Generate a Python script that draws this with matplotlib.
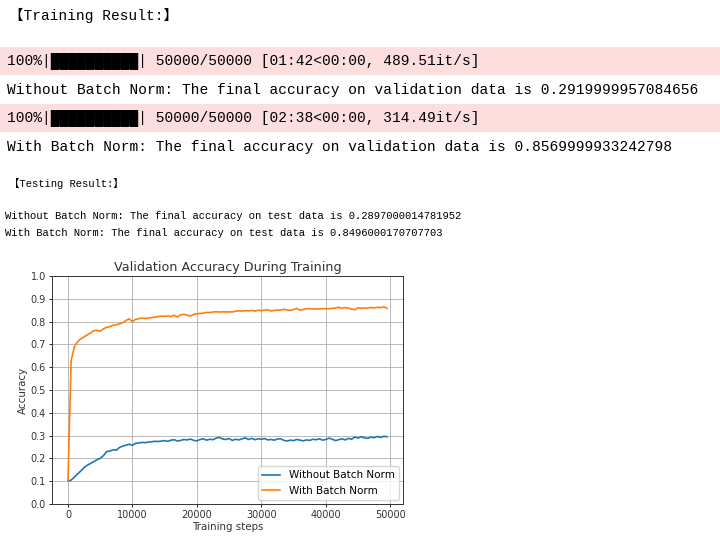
import numpy as np
import matplotlib
matplotlib.use('Agg')
import matplotlib.pyplot as plt
from matplotlib.patches import Rectangle
from matplotlib.ticker import MultipleLocator

# validation accuracy, recorded every 500 training steps
steps = np.arange(0, 50000, 500)

acc_without_bn = [
    0.100, 0.105, 0.118, 0.132, 0.145, 0.160, 0.170, 0.178, 0.186, 0.194,
    0.200, 0.212, 0.230, 0.232, 0.238, 0.236, 0.248, 0.254, 0.258, 0.262,
    0.258, 0.266, 0.268, 0.270, 0.269, 0.272, 0.273, 0.275, 0.274, 0.276,
    0.278, 0.275, 0.280, 0.282, 0.276, 0.279, 0.283, 0.281, 0.285, 0.279,
    0.277, 0.283, 0.286, 0.280, 0.284, 0.282, 0.289, 0.292, 0.285, 0.283,
    0.287, 0.279, 0.284, 0.281, 0.286, 0.290, 0.283, 0.288, 0.282, 0.286,
    0.284, 0.287, 0.281, 0.283, 0.280, 0.285, 0.286, 0.279, 0.276, 0.280,
    0.278, 0.283, 0.280, 0.277, 0.281, 0.279, 0.284, 0.282, 0.286, 0.280,
    0.283, 0.289, 0.284, 0.278, 0.282, 0.286, 0.281, 0.288, 0.284, 0.294,
    0.289, 0.295, 0.290, 0.288, 0.293, 0.291, 0.296, 0.292, 0.297, 0.295,
]

acc_with_bn = [
    0.100, 0.630, 0.690, 0.712, 0.725, 0.733, 0.742, 0.750, 0.760, 0.762,
    0.758, 0.768, 0.775, 0.778, 0.784, 0.786, 0.790, 0.795, 0.805, 0.812,
    0.800, 0.810, 0.813, 0.815, 0.814, 0.815, 0.818, 0.820, 0.822, 0.824,
    0.823, 0.825, 0.822, 0.828, 0.820, 0.830, 0.832, 0.828, 0.825, 0.832,
    0.834, 0.836, 0.837, 0.840, 0.840, 0.842, 0.843, 0.842, 0.843, 0.842,
    0.843, 0.842, 0.846, 0.847, 0.846, 0.848, 0.847, 0.849, 0.846, 0.850,
    0.848, 0.850, 0.852, 0.847, 0.849, 0.851, 0.850, 0.854, 0.851, 0.849,
    0.853, 0.858, 0.850, 0.853, 0.856, 0.857, 0.855, 0.856, 0.855, 0.857,
    0.856, 0.857, 0.858, 0.860, 0.863, 0.858, 0.862, 0.859, 0.855, 0.852,
    0.861, 0.858, 0.860, 0.859, 0.862, 0.860, 0.863, 0.861, 0.865, 0.858,
]

series_labels = ["Without Batch Norm", "With Batch Norm"]

# notebook output text
training_header = "【Training Result:】"
testing_header = "【Testing Result:】"
progress_lines = [
    "100%|██████████| 50000/50000 [01:42<00:00, 489.51it/s]",
    "100%|██████████| 50000/50000 [02:38<00:00, 314.49it/s]",
]
val_lines = [
    "Without Batch Norm: The final accuracy on validation data is 0.2919999957084656",
    "With Batch Norm: The final accuracy on validation data is 0.8569999933242798",
]
test_lines = [
    "Without Batch Norm: The final accuracy on test data is 0.2897000014781952",
    "With Batch Norm: The final accuracy on test data is 0.8496000170707703",
]

W, H = 720, 543
fig = plt.figure(figsize=(W / 100, H / 100), dpi=100)


def fx(px):
    return px / W


def fy(py):
    return 1 - py / H


mono = ['Liberation Mono', 'DejaVu Sans Mono', 'Noto Sans CJK SC']
big = 10.45
small = 7.6

# stderr-style pink bands behind the progress bars
for top, bottom in [(47, 75), (104, 132)]:
    fig.patches.append(Rectangle((0, fy(bottom)), 1, (bottom - top) / H,
                                 transform=fig.transFigure, facecolor="#fcdede",
                                 edgecolor="none", zorder=0))

fig.text(fx(9), fy(15), training_header, family=mono, fontsize=big, va='center')
fig.text(fx(7), fy(61), progress_lines[0], family=mono, fontsize=big, va='center')
fig.text(fx(7), fy(90), val_lines[0], family=mono, fontsize=big, va='center')
fig.text(fx(7), fy(118), progress_lines[1], family=mono, fontsize=big, va='center')
fig.text(fx(7), fy(147), val_lines[1], family=mono, fontsize=big, va='center')
fig.text(fx(9), fy(183), testing_header, family=mono, fontsize=small, va='center')
fig.text(fx(5), fy(216), test_lines[0], family=mono, fontsize=small, va='center')
fig.text(fx(5), fy(233), test_lines[1], family=mono, fontsize=small, va='center')

# chart
ax = fig.add_axes([fx(52), fy(504), (403 - 52) / W, (504 - 276) / H])
ax.plot(steps, acc_without_bn, color="#1f77b4", lw=1.2, label=series_labels[0])
ax.plot(steps, acc_with_bn, color="#ff7f0e", lw=1.2, label=series_labels[1])
ax.set_ylim(0, 1.0)
ax.yaxis.set_major_locator(MultipleLocator(0.1))
ax.xaxis.set_major_locator(MultipleLocator(10000))
ax.grid(True, color="#b0b0b0", lw=0.6)
ax.set_title("Validation Accuracy During Training", fontsize=9.2, pad=3.5, color="#333333")
ax.set_xlabel("Training steps", fontsize=7.4, labelpad=1, color="#333333")
ax.set_ylabel("Accuracy", fontsize=7.4, labelpad=2, color="#333333")
ax.tick_params(labelsize=7.0, length=2.5, width=0.6, pad=2, labelcolor="#333333")
for s in ax.spines.values():
    s.set_linewidth(0.7)
    s.set_color("#333333")
ax.legend(loc="lower right", fontsize=7.5, framealpha=0.8, handlelength=1.8,
          borderaxespad=0.4)

fig.savefig("out.png", dpi=100)
